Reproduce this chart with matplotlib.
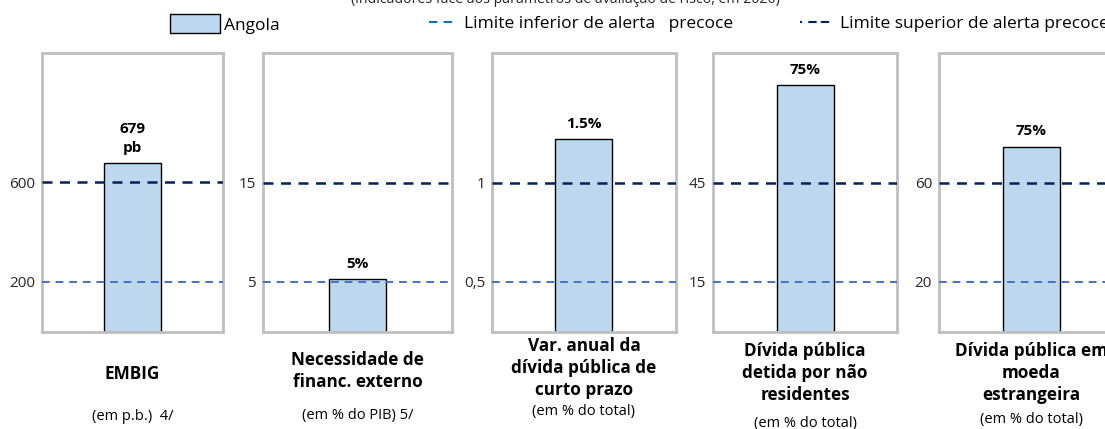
import matplotlib
matplotlib.use("Agg")
import matplotlib.pyplot as plt
from matplotlib.patches import Patch
from matplotlib.lines import Line2D

plt.rcParams["font.family"] = ["Open Sans", "DejaVu Sans"]

# data
names = [
    "EMBIG",
    "Necessidade de\nfinanc. externo",
    "Var. anual da\ndívida pública de\ncurto prazo",
    "Dívida pública\ndetida por não\nresidentes",
    "Dívida pública em\nmoeda\nestrangeira",
]
units = ["(em p.b.)  4/", "(em % do PIB) 5/", "(em % do total)", "(em % do total)", "(em % do total)"]
angola = [679, 5.25, 1.22, 74.5, 74.5]
value_labels = ["679\npb", "5%", "1.5%", "75%", "75%"]
lower_limit = [200, 5, 0.5, 15, 20]
upper_limit = [600, 15, 1, 45, 60]
lower_tick_labels = ["200", "5", "0,5", "15", "20"]
upper_tick_labels = ["600", "15", "1", "45", "60"]

W, H = 1105, 429
bar_color = "#bdd7ee"
upper_color = "#002060"
lower_color = "#4472c4"
frame_color = "#bfbfbf"

fig = plt.figure(figsize=(W / 100, H / 100), dpi=100)

# panel layout in pixels
panel_left = [42, 263, 492, 713, 939]
panel_width = [181, 189, 184, 184, 184]
top_px, bottom_px = 53, 332
name_y = [374, 371, 368, 373, 373]
unit_y = [416, 416, 411, 424, 420]

# fractions of the panel height where the limit lines sit
f_low = (bottom_px - 281.5) / (bottom_px - top_px)
f_up = (bottom_px - 182.5) / (bottom_px - top_px)

for i in range(5):
    ax = fig.add_axes([panel_left[i] / W, 1 - bottom_px / H,
                       panel_width[i] / W, (bottom_px - top_px) / H])
    lo, up = lower_limit[i], upper_limit[i]
    span = (up - lo) / (f_up - f_low)
    ymin = lo - f_low * span
    ax.set_ylim(ymin, ymin + span)
    ax.set_xlim(-0.5, 0.5)

    bw = 57 / panel_width[i]
    ax.bar([0], [angola[i] - ymin], bottom=ymin, width=bw, color=bar_color,
           edgecolor="black", linewidth=1.0, zorder=2)
    ax.axhline(up, color=upper_color, lw=1.8, ls=(0, (4, 3)), zorder=3)
    ax.axhline(lo, color=lower_color, lw=1.4, ls=(0, (4, 3)), zorder=3)

    ax.annotate(value_labels[i], (0, angola[i]), xytext=(0, 6),
                textcoords="offset points", ha="center", va="bottom",
                fontsize=11, fontweight="bold", linespacing=1.4)

    ax.set_xticks([])
    ax.set_yticks([lo, up])
    ax.set_yticklabels([lower_tick_labels[i], upper_tick_labels[i]])
    ax.tick_params(axis="y", length=0, pad=5, labelsize=11, labelcolor="#262626")
    for s in ax.spines.values():
        s.set_color(frame_color)
        s.set_linewidth(2)

    cx = (panel_left[i] + panel_width[i] / 2) / W
    fig.text(cx, 1 - name_y[i] / H, names[i], ha="center", va="center",
             fontsize=12.3, fontweight="bold", linespacing=1.3, color="black")
    fig.text(cx, 1 - unit_y[i] / H, units[i], ha="center", va="center",
             fontsize=10.5, color="black")

fig.text(565 / W, 1 - 3 / H,
         "(indicadores face aos parâmetros de avaliação de risco, em 2020)",
         ha="center", va="baseline", fontsize=10.2, color="#262626")

# legend, three separate entries
common = dict(frameon=False, fontsize=12.5, borderaxespad=0, borderpad=0)
ly = 1 - 24 / H
fig.legend(handles=[Patch(facecolor=bar_color, edgecolor="black", lw=1)],
           labels=["Angola"], loc="center left",
           bbox_to_anchor=(170 / W, ly), handlelength=2.9,
           handleheight=1.3, handletextpad=0.22, **common)
fig.legend(handles=[Line2D([], [], color="#0070c0", lw=1.5, ls=(0, (4, 3)))],
           labels=["Limite inferior de alerta   precoce"], loc="center left",
           bbox_to_anchor=(429 / W, ly), handlelength=1.35,
           handletextpad=0.68, **common)
fig.legend(handles=[Line2D([], [], color=upper_color, lw=1.5,
                           ls=(0, (1, 3, 4, 2, 4, 2)))],
           labels=["Limite superior de alerta precoce"], loc="center left",
           bbox_to_anchor=(800 / W, ly), handlelength=1.9,
           handletextpad=0.4, **common)

fig.savefig("out.png", dpi=100)
